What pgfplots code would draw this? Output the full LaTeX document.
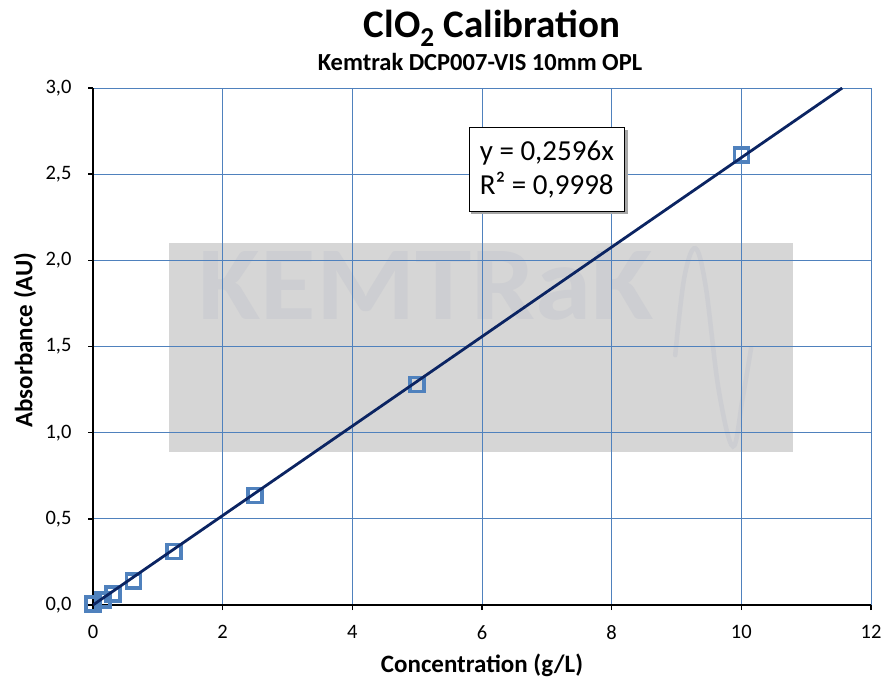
\documentclass[border=0pt]{standalone}
\usepackage{fontspec}
\setmainfont{Carlito}
\usepackage{graphicx}
\usepackage{pgfplots}
\pgfplotsset{compat=1.18}
\definecolor{gridblue}{HTML}{4F81BD}
\definecolor{markblue}{HTML}{4F81BD}
\definecolor{trendnavy}{HTML}{0B2462}
\definecolor{wmgray}{HTML}{D6D6D6}
\definecolor{wmtext}{HTML}{CDCED2}

\pgfplotstableread{
x y
0 0.005
0.156 0.03
0.3125 0.065
0.625 0.14
1.25 0.31
2.5 0.635
5 1.28
10 2.61
}\caldata

\begin{document}
\begin{tikzpicture}
\path[use as bounding box] (-93pt,-78pt) rectangle (789pt,605pt);
% background watermark axis
\begin{axis}[
  at={(0pt,0pt)}, anchor=south west,
  scale only axis, width=778pt, height=517pt,
  xmin=0, xmax=12, ymin=0, ymax=3,
  hide axis,
]
\addplot[fill=wmgray, draw=none] coordinates {(1.17,0.888) (10.8,0.888) (10.8,2.10) (1.17,2.10)} -- cycle;
\addplot[wmtext, line width=4.5pt, line cap=round, smooth, tension=0.6] coordinates {
  (8.98,1.45) (9.12,1.90) (9.29,2.07) (9.45,1.85)
  (9.65,1.25) (9.87,0.92) (10.02,1.20) (10.15,1.49)};
\node[wmtext, inner sep=0pt] at (axis cs:5.14,1.85) {\resizebox{455pt}{68pt}{\bfseries KEMTRaK}};
\end{axis}
\begin{axis}[
  at={(0pt,0pt)}, anchor=south west,
  scale only axis, width=778pt, height=517pt,
  xmin=0, xmax=12, ymin=0, ymax=3,
  xtick={0,2,4,6,8,10,12},
  ytick={0,0.5,1,1.5,2,2.5,3},
  axis x line*=bottom, axis y line*=left,
  axis line style={black, line width=1.4pt, -},
  tick style={black, line width=1.4pt},
  tick align=outside, major tick length=5pt,
  grid=major, major grid style={gridblue, line width=0.8pt},
  ticklabel style={font=\fontsize{20.5}{23}\selectfont},
  /pgf/number format/assume math mode=true,
  yticklabel style={xshift=-13pt, /pgf/number format/.cd, fixed, fixed zerofill, precision=1, use comma},
  xticklabel style={yshift=-12pt},
  clip mode=individual,
]
\addplot[only marks, mark=square, mark size=7pt, mark options={draw=markblue, line width=3.6pt, fill=none}] table[x=x, y=y] {\caldata};
\addplot[trendnavy, line width=2.8pt, no marks] coordinates {(0,0) (11.556,3)};
\node[fill=black!35, inner sep=0pt, minimum width=157pt, minimum height=84pt] at (axis cs:7.04,2.51) {};
\node[draw=black, line width=0.9pt, fill=white, inner sep=0pt, minimum width=155pt, minimum height=84pt] at (axis cs:7.0,2.525) {};
\node[align=left, inner sep=0pt, font=\fontsize{29}{34}\selectfont] at (axis cs:7.0,2.525) {y = 0,2596x\\R² = 0,9998};
\end{axis}
\node[font=\bfseries\fontsize{39}{41}\selectfont] at (399pt,577pt) {ClO\textsubscript{2} Calibration};
\node[font=\bfseries\fontsize{24.5}{26}\selectfont] at (387pt,543pt) {Kemtrak DCP007-VIS 10mm OPL};
\node[font=\bfseries\fontsize{25}{27}\selectfont, rotate=90] at (-68pt,265pt) {Absorbance (AU)};
\node[font=\bfseries\fontsize{25}{27}\selectfont] at (389pt,-60pt) {Concentration (g/L)};
\end{tikzpicture}
\end{document}
